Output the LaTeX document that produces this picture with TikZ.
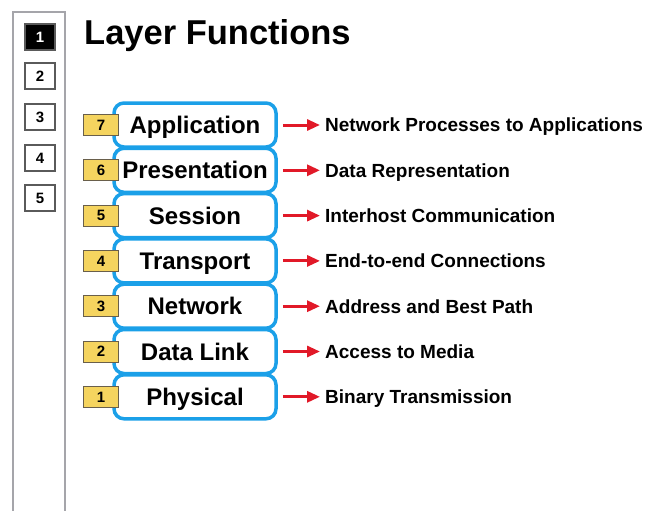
\documentclass[tikz,border=0pt]{standalone}
\usepackage{fontspec}
\setmainfont{Liberation Sans}
\usetikzlibrary{arrows.meta}
\definecolor{layerblue}{RGB}{27,160,232}
\definecolor{numyellow}{RGB}{245,212,95}
\definecolor{numborder}{RGB}{105,95,75}
\definecolor{sidegray}{RGB}{165,165,170}
\definecolor{tabborder}{RGB}{90,90,90}
\definecolor{arrowred}{RGB}{225,25,40}
\tikzset{
  sidebar/.style={draw=sidegray, line width=2pt},
  tabbox/.style={draw=tabborder, line width=1.2pt, fill=white, minimum width=30pt, minimum height=26pt, inner sep=0pt, text height=10.7pt, text depth=0pt, font=\fontsize{15}{17}\selectfont\bfseries},
  tabactive/.style={tabbox, fill=black, text=white},
  layerbox/.style={draw=layerblue, line width=3.5pt, rounded corners=10pt, fill=white, minimum width=162pt, minimum height=44pt, inner sep=0pt, text height=21.5pt, text depth=4.3pt, font=\fontsize{24}{28}\selectfont\bfseries},
  numbox/.style={draw=numborder, line width=1pt, fill=numyellow, minimum width=35pt, minimum height=21pt, inner sep=0pt, text height=10.7pt, text depth=0pt, font=\fontsize{15}{17}\selectfont\bfseries},
  desc/.style={anchor=west, inner sep=0pt, text height=13.6pt, text depth=0pt, font=\fontsize{19}{22}\selectfont\bfseries},
  redarrow/.style={draw=arrowred, line width=3pt, -{Triangle[length=13pt,width=11pt]}, shorten <=5pt, shorten >=5pt},
  title/.style={anchor=base west, inner sep=0pt, font=\fontsize{34.5}{40}\selectfont\bfseries}
}
\begin{document}
\begin{tikzpicture}[x=1pt,y=-1pt]
\useasboundingbox (0,0) rectangle (645,511);
\draw[sidebar] (13,511) -- (13,12) -- (65,12) -- (65,511);
\node[tabactive] (t1) at (40,37) {1};
\node[tabbox] (t2) at (40,76) {2};
\node[tabbox] (t3) at (40,117) {3};
\node[tabbox] (t4) at (40,158) {4};
\node[tabbox] (t5) at (40,198) {5};
\node[title] (ttl) at (84,45) {Layer Functions};
\foreach \n/\name/\d [count=\i from 0] in {7/Application/Network Processes to Applications,6/Presentation/Data Representation,5/Session/Interhost Communication,4/Transport/End-to-end Connections,3/Network/Address and Best Path,2/Data Link/Access to Media,1/Physical/Binary Transmission}{
  \pgfmathsetmacro{\yy}{125+45.3*\i}
  \node[layerbox] (L\n) at (195,\yy) {\name};
  \node[numbox] (N\n) at (101,\yy) {\n};
  \node[desc] (D\n) at (325,\yy) {\d};
  \draw[redarrow] (L\n.east) -- (D\n.west);
}
\end{tikzpicture}
\end{document}
